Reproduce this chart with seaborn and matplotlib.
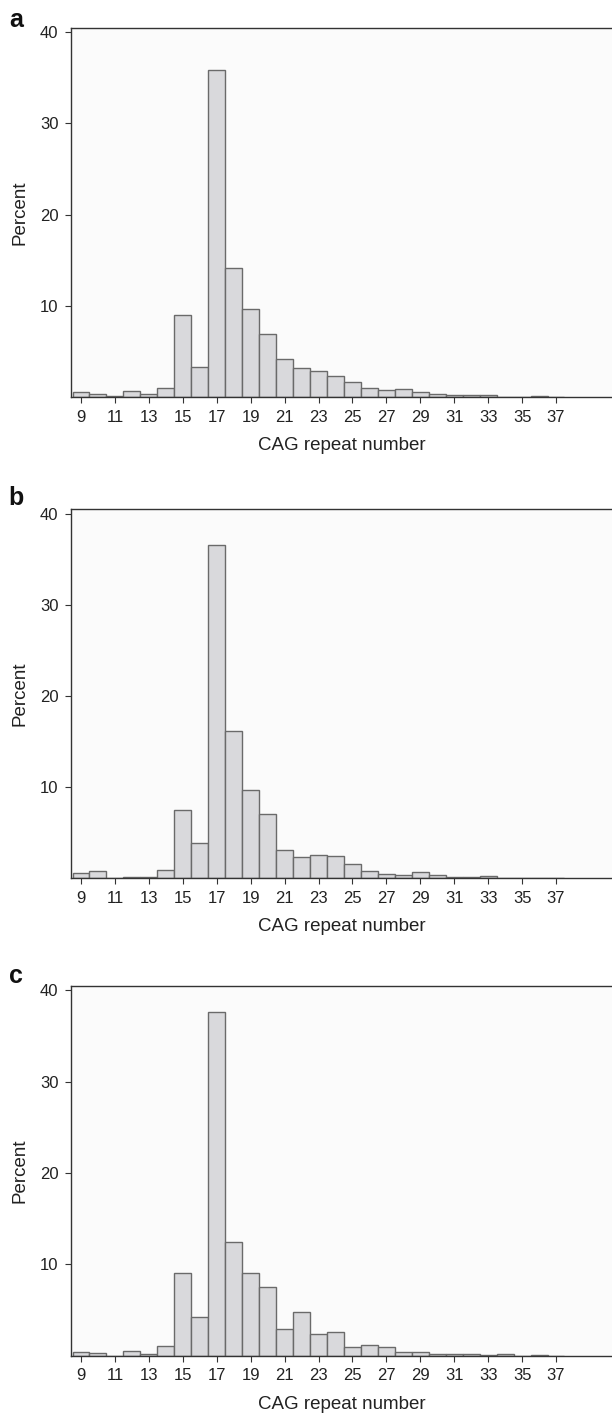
import numpy as np
import pandas as pd
import matplotlib
matplotlib.use("Agg")
import matplotlib.pyplot as plt
import seaborn as sns

# ---- data ----
cag_repeats = list(range(9, 38))
pct_a = [0.55, 0.33, 0.10, 0.66, 0.33, 0.99, 8.98, 3.36, 35.8, 14.2, 9.7, 6.9,
         4.24, 3.18, 2.88, 2.34, 1.72, 0.99, 0.77, 0.88, 0.55, 0.33, 0.22, 0.22,
         0.22, 0.0, 0.0, 0.11, 0.0]
pct_b = [0.59, 0.81, 0.0, 0.18, 0.18, 0.92, 7.5, 3.86, 36.6, 16.2, 9.63, 7.06,
         3.12, 2.39, 2.61, 2.5, 1.62, 0.77, 0.51, 0.37, 0.66, 0.37, 0.18, 0.18,
         0.29, 0.0, 0.0, 0.0, 0.0]
pct_c = [0.44, 0.33, 0.0, 0.55, 0.22, 1.06, 9.05, 4.23, 37.6, 12.45, 9.05, 7.56,
         2.88, 4.75, 2.41, 2.56, 0.95, 1.17, 0.95, 0.44, 0.44, 0.22, 0.22, 0.22,
         0.11, 0.22, 0.0, 0.11, 0.0]
panel_letters = ["a", "b", "c"]
x_ticks = list(range(9, 38, 2))
y_ticks = [10, 20, 30, 40]
x_label = "CAG repeat number"
y_label = "Percent"

sns.set_theme(style="white")
plt.rcParams["font.family"] = ["Liberation Sans", "DejaVu Sans"]

W, H = 612, 1414
fig = plt.figure(figsize=(W / 100, H / 100), dpi=100)

# axes boxes in pixels: (top, bottom)
boxes = [(27.5, 397.3), (509.0, 878.3), (985.7, 1355.7)]
letter_y = [20, 498, 976]
left_px, right_px = 71, 612

for series, letter, (t, b), ly in zip([pct_a, pct_b, pct_c], panel_letters, boxes, letter_y):
    ax = fig.add_axes([left_px / W, 1 - b / H, (right_px - left_px) / W, (b - t) / H])
    df = pd.DataFrame({"cag": cag_repeats, "pct": series})
    sns.histplot(data=df, x="cag", weights="pct", discrete=True, ax=ax,
                 color="#d9d9dc", edgecolor="#6a6a6a", linewidth=1.0, alpha=1.0)
    ax.set_facecolor("#fbfbfb")
    ax.set_xlim(8.41, 40.3)
    ax.set_ylim(0, 40.5)
    ax.set_xticks(x_ticks)
    ax.set_yticks(y_ticks)
    ax.tick_params(axis="both", which="major", direction="out", length=4,
                   width=0.8, color="#333333", labelsize=12, labelcolor="#222222",
                   bottom=True, left=True)
    ax.tick_params(axis="x", pad=5)
    ax.tick_params(axis="y", pad=5)
    for side in ["left", "top", "bottom"]:
        ax.spines[side].set_visible(True)
        ax.spines[side].set_color("#333333")
        ax.spines[side].set_linewidth(1.0)
    ax.spines["right"].set_visible(False)
    ax.set_xlabel(x_label, fontsize=13.5, color="#222222", labelpad=9)
    ax.set_ylabel(y_label, fontsize=13.5, color="#222222", labelpad=8)
    fig.text(16 / W, 1 - ly / H, letter, fontsize=18, fontweight="bold",
             ha="center", va="center", color="#111111")

fig.savefig("out.png", dpi=100)
